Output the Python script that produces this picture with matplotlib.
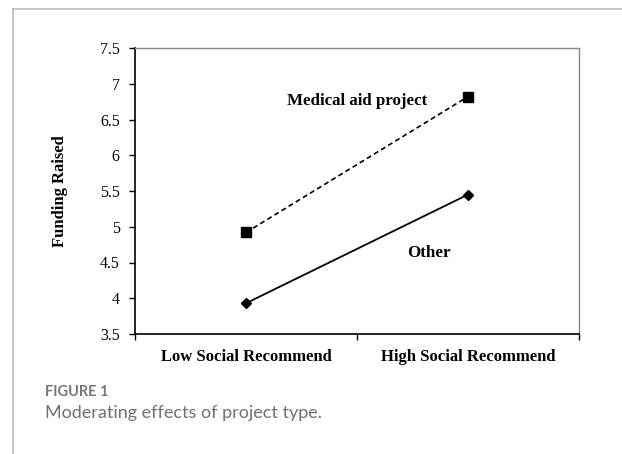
import matplotlib.pyplot as plt
from matplotlib.lines import Line2D

categories = ["Low Social Recommend", "High Social Recommend"]
medical_aid = [4.92, 6.82]
other = [3.93, 5.45]
y_ticks = [3.5, 4, 4.5, 5, 5.5, 6, 6.5, 7, 7.5]
y_tick_labels = ["3.5", "4", "4.5", "5", "5.5", "6", "6.5", "7", "7.5"]

serif = ["Liberation Serif", "DejaVu Serif"]
sans = ["Lato", "Open Sans", "DejaVu Sans"]

fig = plt.figure(figsize=(6.22, 4.54), dpi=100)

# journal frame lines (left and top)
fig.add_artist(Line2D([12.7 / 622, 12.7 / 622], [0, 1 - 9 / 454],
                      transform=fig.transFigure, color="#bbbbbb", lw=1.2))
fig.add_artist(Line2D([12.7 / 622, 1], [1 - 9 / 454, 1 - 9 / 454],
                      transform=fig.transFigure, color="#bbbbbb", lw=1.2))

ax = fig.add_axes([135 / 622, 1 - 334 / 454, 444 / 622, 286 / 454])
x = [1, 2]
ax.plot(x, medical_aid, color="black", ls=(0, (3, 2)), lw=1.2,
        marker="s", ms=6.5, mfc="black", mec="black")
ax.plot(x, other, color="black", ls="-", lw=1.3,
        marker="D", ms=5, mfc="black", mec="black")

ax.set_xlim(0.5, 2.5)
ax.set_ylim(3.5, 7.5)
ax.set_yticks(y_ticks)
ax.set_yticklabels(y_tick_labels, fontfamily=serif, fontsize=11.5)
ax.tick_params(axis="y", direction="out", length=4, width=1, pad=7)

# category boundaries as major ticks, labels on minor ticks
ax.set_xticks([0.5, 1.5, 2.5])
ax.set_xticklabels([])
ax.tick_params(axis="x", which="major", direction="out", length=4, width=1)
ax.set_xticks(x, minor=True)
ax.set_xticklabels(categories, minor=True, fontfamily=serif,
                   fontsize=12, fontweight="bold")
ax.tick_params(axis="x", which="minor", length=0, pad=11)

for s in ["top", "right"]:
    ax.spines[s].set_color("#888888")
    ax.spines[s].set_linewidth(1)
for s in ["left", "bottom"]:
    ax.spines[s].set_color("black")
    ax.spines[s].set_linewidth(1.2)

ax.set_ylabel("Funding Raised", fontfamily=serif, fontsize=12,
              fontweight="bold", labelpad=23)

ax.text(1.5, 6.76, "Medical aid project", ha="center", va="center",
        fontfamily=serif, fontsize=12.2, fontweight="bold")
ax.text(1.824, 4.63, "Other", ha="center", va="center",
        fontfamily=serif, fontsize=12.2, fontweight="bold")

fig.text(45 / 622, 1 - 392 / 454, "FIGURE 1", fontfamily=sans,
         fontsize=10.5, fontweight="bold", color="#777777", va="center")
fig.text(45 / 622, 1 - 413 / 454, "Moderating effects of project type.",
         fontfamily=sans, fontsize=13, color="#707070", va="center")

fig.savefig("out.png", dpi=100)
